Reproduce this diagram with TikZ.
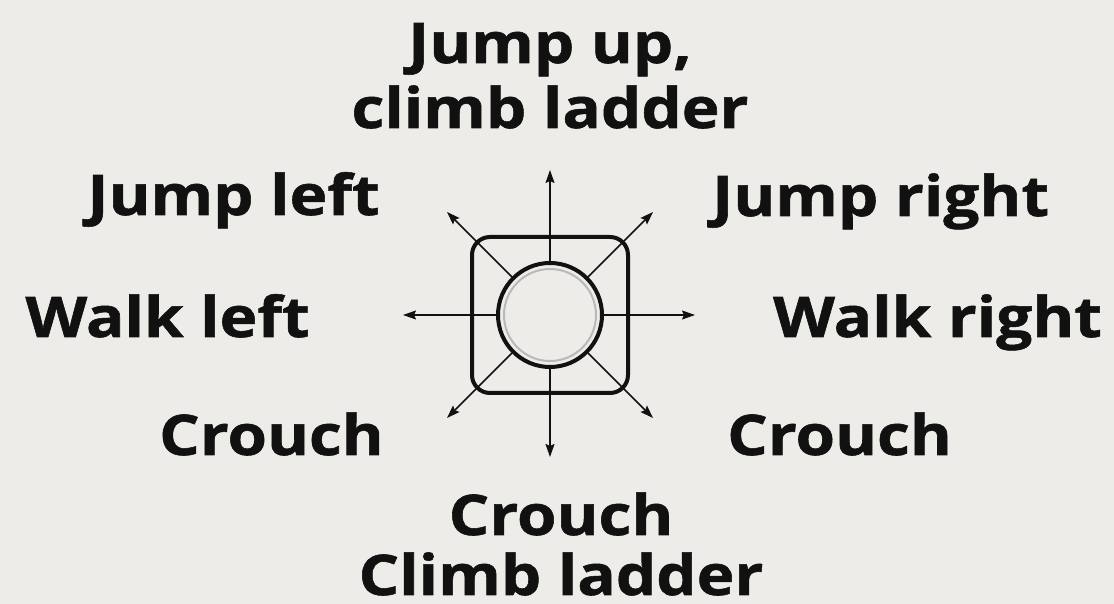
\documentclass[tikz,border=0pt]{standalone}
\usepackage{fontspec}
\setmainfont{Open Sans}
\newfontfamily\lblfont{Open Sans}[FakeStretch=1.14, FakeBold=1]
\usetikzlibrary{arrows.meta, positioning}
\definecolor{Paper}{HTML}{EEECE8}
\definecolor{Ink}{HTML}{111111}

\begin{document}
\begin{tikzpicture}[x=1pt, y=1pt]
    \tikzstyle{lbl} = [text=Ink, inner sep=0pt, font=\lblfont\fontsize{56}{65}\selectfont\bfseries]
    \tikzstyle{dir} = [Ink, line width=1.5pt, -{Stealth[length=13pt, width=9pt, inset=2pt]}]
    \tikzstyle{pad} = [rectangle, draw=Ink, line width=4pt, rounded corners=18pt, minimum size=156pt, inner sep=0pt]
    \tikzstyle{stick} = [circle, draw=Ink, line width=4pt, minimum size=104pt, inner sep=0pt]

    % paper
    \fill[Paper] (0,0) rectangle (1114,604);
    \useasboundingbox (0,0) rectangle (1114,604);

    % the stick
    \coordinate (c) at (550,289);
    \coordinate (tN) at (550,434);
    \coordinate (tS) at (550,147);
    \coordinate (tW) at (403,289);
    \coordinate (tE) at (695,289);
    \coordinate (tNW) at (447,392);
    \coordinate (tNE) at (653,392);
    \coordinate (tSW) at (447,186);
    \coordinate (tSE) at (653,186);

    \node [stick, draw=none] (stick) at (c) {};
    \draw [dir] (stick.north) -- (tN);
    \draw [dir] (stick.south) -- (tS);
    \draw [dir] (stick.west) -- (tW);
    \draw [dir] (stick.east) -- (tE);
    \draw [dir] (stick.135) -- (tNW);
    \draw [dir] (stick.45) -- (tNE);
    \draw [dir] (stick.225) -- (tSW);
    \draw [dir] (stick.-45) -- (tSE);

    \node [pad] (pad) at (c) {};
    \node [stick, fill=Paper] at (c) {};
    \draw [gray!55, line width=2pt] (c) circle (46);

    % labels
    \node [lbl, anchor=base, align=center] (jumpup) at (550,476) {Jump up,\\climb ladder};
    \node [lbl, anchor=base east] (jumpleft) at (380,389) {Jump left};
    \node [lbl, anchor=base east] (walkleft) at (310,267) {Walk left};
    \node [lbl, anchor=base east] (crouchleft) at (384,149) {Crouch};
    \node [lbl, anchor=base west] (jumpright) at (712,388) {Jump right};
    \node [lbl, anchor=base west] (walkright) at (773,267) {Walk right};
    \node [lbl, anchor=base west] (crouchright) at (727,149) {Crouch};
    \node [lbl, anchor=base, align=center, font=\lblfont\fontsize{56}{60}\selectfont\bfseries] (crouchdown) at (561,9) {Crouch\\Climb ladder};
\end{tikzpicture}
\end{document}
